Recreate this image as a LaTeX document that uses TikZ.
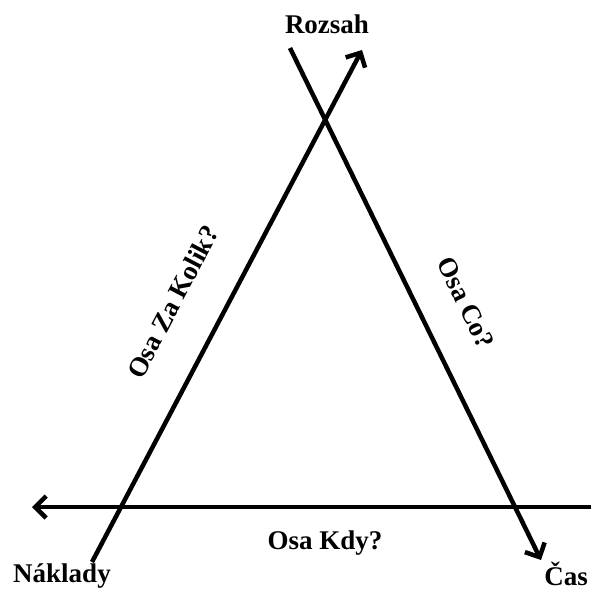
\documentclass[tikz,border=0pt]{standalone}
\usepackage{fontspec}
\setmainfont{Liberation Serif}
\usetikzlibrary{arrows.meta}
\begin{document}
\begin{tikzpicture}[x=1pt,y=-1pt,
  axis/.style={line width=4.5pt,-{Straight Barb[length=11pt,width=22pt,line width=4.5pt]}},
  lbl/.style={font=\fontsize{27}{31}\selectfont\bfseries,inner sep=0pt}]
\useasboundingbox (0,0) rectangle (591,590);
% axis end points
\coordinate (k0) at (92,562);
\coordinate (k1) at (362,50);
\coordinate (c0) at (290,48);
\coordinate (c1) at (541,560);
\coordinate (h0) at (592,507);
\coordinate (h1) at (32,507);
\draw[axis] (k0) -- (k1);
\draw[axis] (c0) -- (c1);
\draw[axis] (h0) -- (h1);
% labels
\node[lbl] (rozsah) at (327,24) {Rozsah};
\node[lbl] (naklady) at (62,576) {Náklady};
\node[lbl] (cas) at (566,574) {Čas};
\node[lbl] (kdy) at (325,543) {Osa Kdy?};
\node[lbl,rotate=62.3] (kolik) at (173,302) {Osa Za Kolik?};
\node[lbl,rotate=-63.9] (co) at (466,303) {Osa Co?};
\end{tikzpicture}
\end{document}
